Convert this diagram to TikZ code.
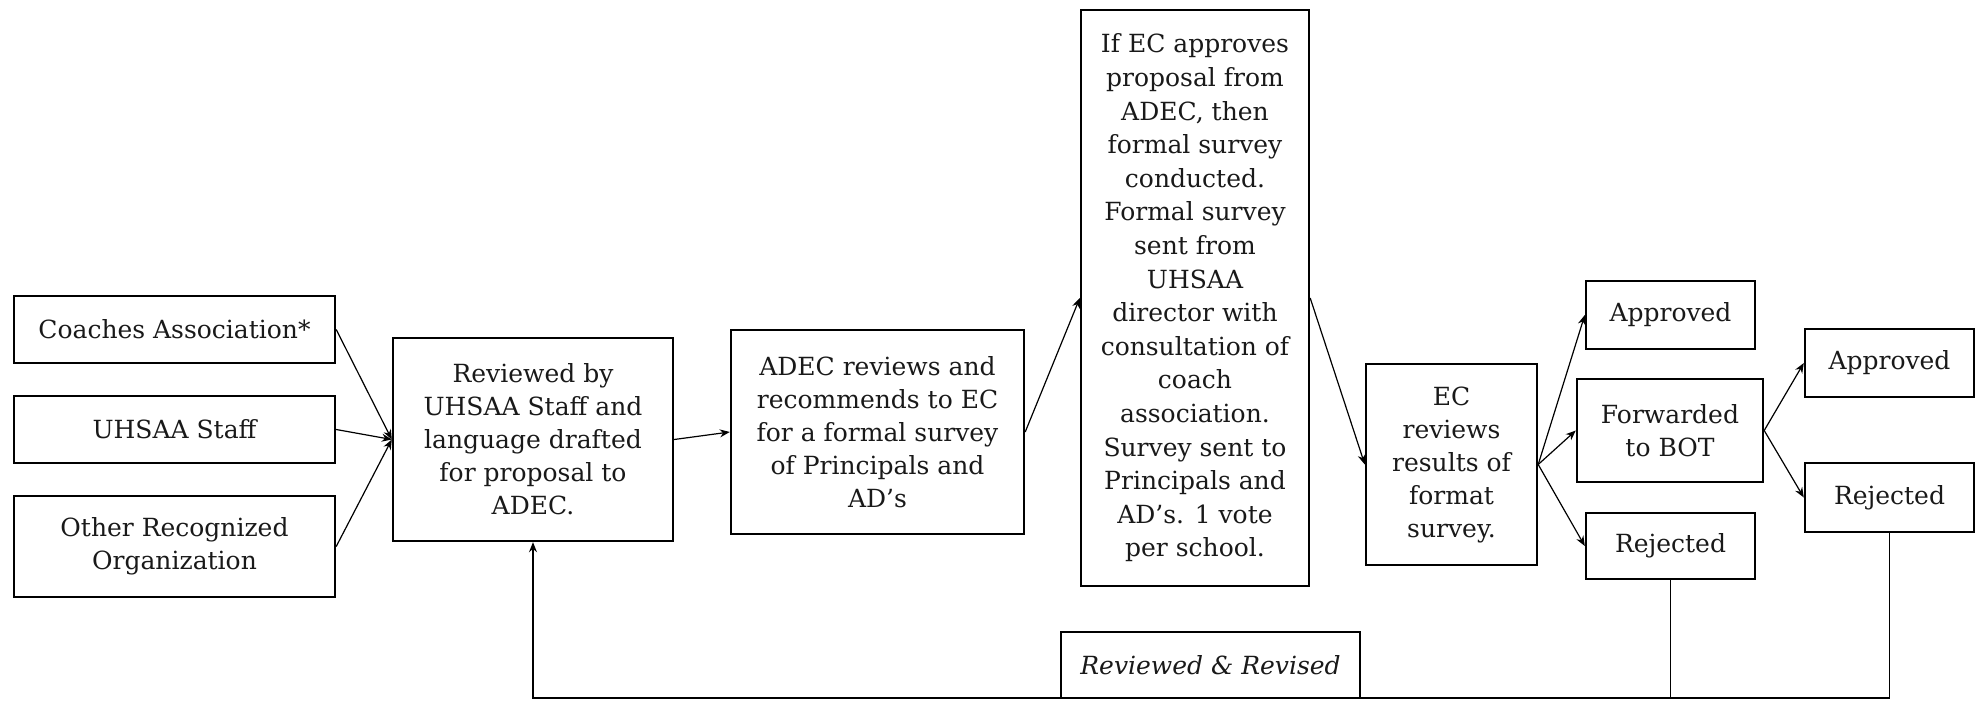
\documentclass[tikz,border=0pt]{standalone}
\usepackage{fontspec}
\setmainfont{DejaVu Serif}
\usetikzlibrary{positioning}
\usetikzlibrary{shapes.geometric, arrows.meta}

\begin{document}
\begin{tikzpicture}[x=0.5pt,y=-0.5pt]
    \tikzset{base/.style = {rectangle, draw=black, line width=1.2pt,
                           inner sep=2pt, align=center, text=black!90,
                           font=\fontsize{12.5}{16.5}\selectfont}}
    \tikzset{source/.style = {base, minimum width=160.5pt, minimum height=33.5pt}}
    \tikzset{outcome/.style = {base, minimum width=84.5pt, minimum height=34pt}}
    \tikzset{note/.style = {base, line width=0.6pt, fill=white,
                           minimum width=149.5pt, minimum height=33pt,
                           font=\fontsize{12.5}{16.5}\selectfont\itshape}}
    \tikzset{link/.style = {line width=0.6pt, -{Stealth[length=5pt, width=4pt]}}}

    \useasboundingbox (0,0) rectangle (1983,702);

    \node (coach) [source] at (174.5,329.5) {Coaches Association*};
    \node (staff) [source] at (174.5,429.5) {UHSAA Staff};
    \node (other) [source, minimum height=50.5pt] at (174.5,546.5) {Other Recognized\\Organization};
    \node (review) [base, minimum width=140pt, minimum height=101.5pt] at (533,439.5)
        {Reviewed by\\UHSAA Staff and\\language drafted\\for proposal to\\ADEC.};
    \node (adec) [base, minimum width=146.5pt, minimum height=102pt] at (877.5,432)
        {ADEC reviews and\\recommends to EC\\for a formal survey\\of Principals and\\AD’s};
    \node (survey) [base, minimum width=114pt, minimum height=288pt,
                    font=\fontsize{12.5}{16.8}\selectfont] at (1195,298)
        {If EC approves\\proposal from\\ADEC, then\\formal survey\\conducted.\\Formal survey\\sent from\\UHSAA\\director with\\consultation of\\coach\\association.\\Survey sent to\\Principals and\\AD’s. 1 vote\\per school.};
    \node (ecrev) [base, minimum width=85.5pt, minimum height=100.5pt] at (1451.5,464.5)
        {EC\\reviews\\results of\\format\\survey.};
    \node (app1) [outcome] at (1670.5,315) {Approved};
    \node (fwd) [outcome, minimum width=93pt, minimum height=51.5pt] at (1670,430.5) {Forwarded\\to BOT};
    \node (rej1) [outcome, minimum height=33pt] at (1670.5,546) {Rejected};
    \node (app2) [outcome] at (1889.5,363) {Approved};
    \node (rej2) [outcome, minimum height=34.5pt] at (1889.5,497.5) {Rejected};
    \coordinate (bend) at (533,698);

    \draw[link] (coach.east) -- (review.west);
    \draw[link] (staff.east) -- (review.west);
    \draw[link] (other.east) -- (review.west);
    \draw[link] (review.east) -- (adec.west);
    \draw[link] (adec.east) -- (survey.west);
    \draw[link] (survey.east) -- (ecrev.west);
    \draw[link] (ecrev.east) -- (app1.west);
    \draw[link] (ecrev.east) -- (fwd.west);
    \draw[link] (ecrev.east) -- (rej1.west);
    \draw[link] (fwd.east) -- (app2.west);
    \draw[link] (fwd.east) -- (rej2.west);

    % back to staff review
    \draw[line width=0.6pt] (rej1.south) -- (rej1.south |- bend);
    \draw[link] (rej2.south) |- (bend) -- (review.south);

    \node (revised) [note] at (1210.5,665) {Reviewed \& Revised};

\end{tikzpicture}
\end{document}
